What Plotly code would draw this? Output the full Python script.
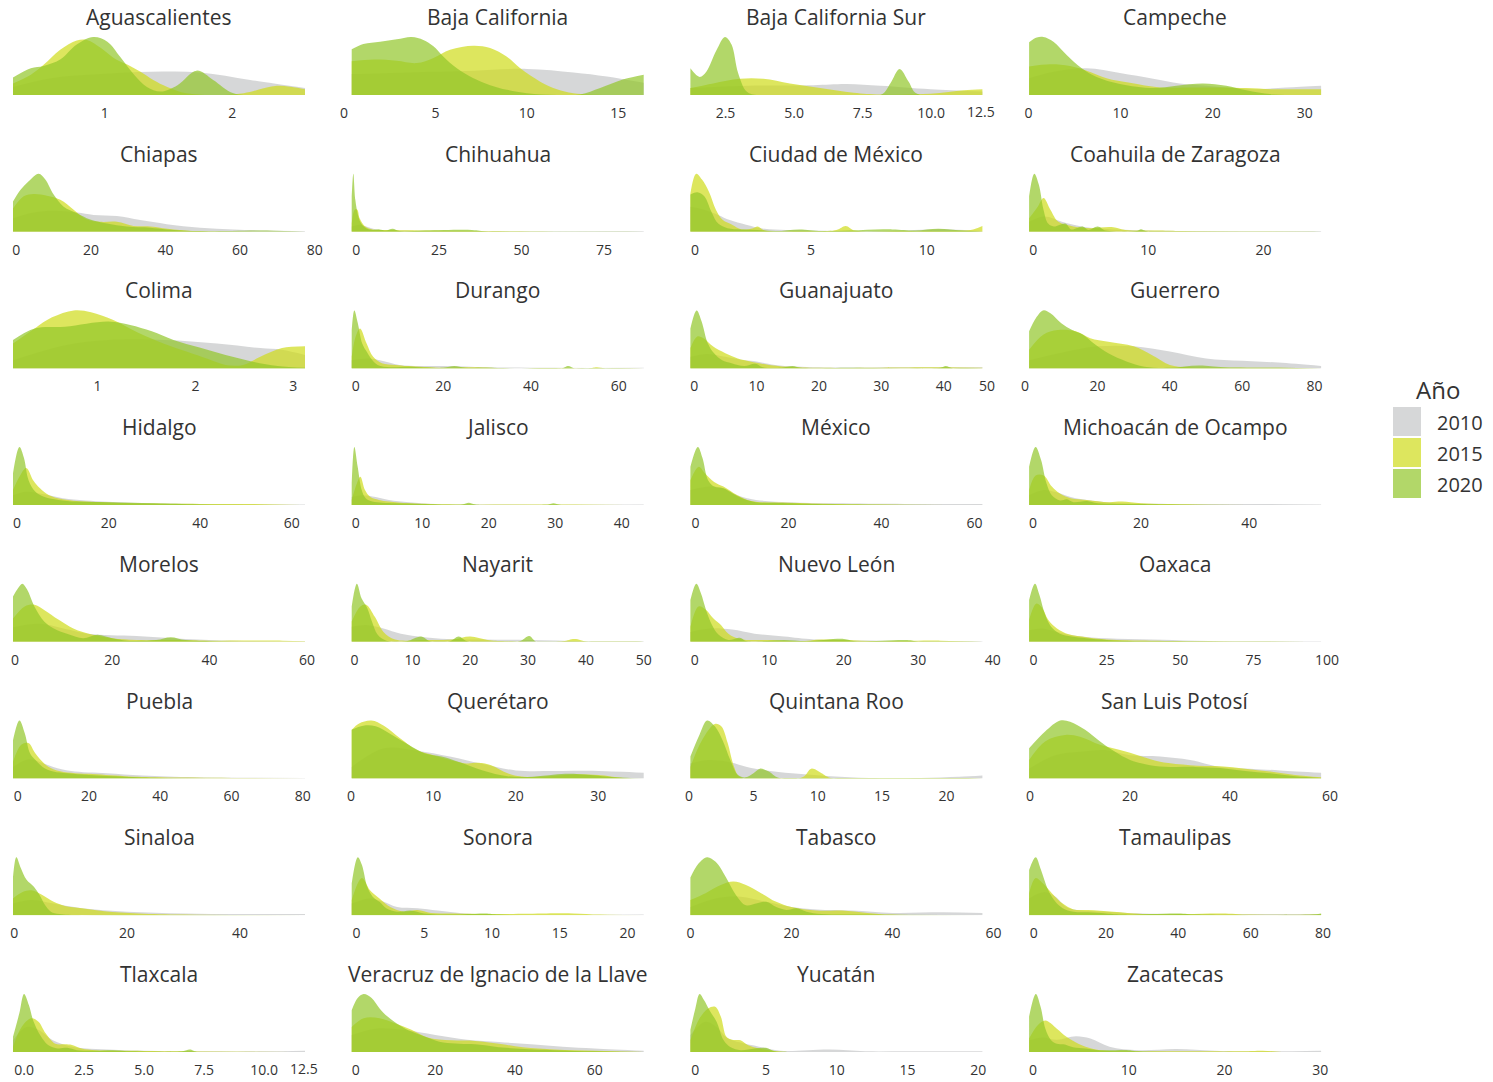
import plotly.graph_objects as go

# ---------------- data (y = density as % of panel peak) ----------------
STATES = ["Aguascalientes", "Baja California", "Baja California Sur", "Campeche",
          "Chiapas", "Chihuahua", "Ciudad de México", "Coahuila de Zaragoza",
          "Colima", "Durango", "Guanajuato", "Guerrero",
          "Hidalgo", "Jalisco", "México", "Michoacán de Ocampo",
          "Morelos", "Nayarit", "Nuevo León", "Oaxaca",
          "Puebla", "Querétaro", "Quintana Roo", "San Luis Potosí",
          "Sinaloa", "Sonora", "Tabasco", "Tamaulipas",
          "Tlaxcala", "Veracruz de Ignacio de la Llave", "Yucatán", "Zacatecas"]
KEYS = ["AGS", "BC", "BCS", "CAM", "CHS", "CHH", "CDMX", "COA",
        "COL", "DGO", "GTO", "GRO", "HGO", "JAL", "MEX", "MIC",
        "MOR", "NAY", "NL", "OAX", "PUE", "QRO", "QROO", "SLP",
        "SIN", "SON", "TAB", "TAM", "TLAX", "VER", "YUC", "ZAC"]
YEARS = ["2010", "2015", "2020"]
TICK_LABELS = [["1", "2"], ["0", "5", "10", "15"], ["2.5", "5.0", "7.5", "10.0", "12.5"], ["0", "10", "20", "30"],
               ["0", "20", "40", "60", "80"], ["0", "25", "50", "75"], ["0", "5", "10"], ["0", "10", "20"],
               ["1", "2", "3"], ["0", "20", "40", "60"], ["0", "10", "20", "30", "40", "50"], ["0", "20", "40", "60", "80"],
               ["0", "20", "40", "60"], ["0", "10", "20", "30", "40"], ["0", "20", "40", "60"], ["0", "20", "40"],
               ["0", "20", "40", "60"], ["0", "10", "20", "30", "40", "50"], ["0", "10", "20", "30", "40"], ["0", "25", "50", "75", "100"],
               ["0", "20", "40", "60", "80"], ["0", "10", "20", "30"], ["0", "5", "10", "15", "20"], ["0", "20", "40", "60"],
               ["0", "20", "40"], ["0", "5", "10", "15", "20"], ["0", "20", "40", "60"], ["0", "20", "40", "60", "80"],
               ["0.0", "2.5", "5.0", "7.5", "10.0", "12.5"], ["0", "20", "40", "60"], ["0", "5", "10", "15", "20"], ["0", "10", "20", "30"]]

AGS_2010 = [(0.28, 14), (0.58, 29), (0.97, 36), (1.36, 40), (1.75, 39), (2.14, 26), (2.57, 12)]
AGS_2015 = [(0.28, 20), (0.42, 35), (0.52, 52), (0.65, 78), (0.78, 94), (0.86, 95), (0.97, 81), (1.07, 64), (1.18, 52),
            (1.28, 40), (1.38, 26), (1.49, 14), (1.64, 3), (1.88, 0), (2.09, 3), (2.35, 16), (2.57, 10)]
AGS_2020 = [(0.28, 30), (0.42, 46), (0.52, 50), (0.65, 61), (0.78, 87), (0.91, 100), (1.02, 92), (1.12, 66), (1.23, 35),
            (1.33, 14), (1.44, 6), (1.57, 17), (1.72, 42), (1.85, 26), (2.01, 3), (2.27, 0), (2.57, 0)]

BC_2010 = [(0.42, 36), (3.43, 39), (7.08, 42), (10.0, 45), (12.55, 39), (14.38, 32), (16.39, 21)]
BC_2015 = [(0.42, 58), (1.61, 61), (2.88, 59), (3.98, 55), (4.89, 64), (5.80, 78), (7.08, 85), (7.99, 81), (8.91, 66),
           (9.64, 46), (10.73, 23), (11.64, 10), (12.55, 3), (14.38, 0), (16.39, 0)]
BC_2020 = [(0.42, 79), (1.06, 88), (1.97, 92), (2.88, 96), (3.70, 100), (4.34, 95), (4.89, 84), (5.44, 66), (6.17, 46),
           (7.08, 29), (7.99, 17), (8.91, 9), (10.0, 3), (11.64, 0), (12.92, 1), (14.01, 12), (15.29, 27), (16.39, 35)]

BCS_2010 = [(1.22, 12), (3.27, 16), (5.71, 17), (6.93, 19), (8.15, 16), (9.98, 10), (11.87, 6)]
BCS_2015 = [(1.22, 12), (2.05, 20), (3.02, 28), (3.88, 28), (4.85, 20), (5.95, 12), (7.17, 4), (8.15, 1), (9.98, 2),
            (11.2, 8), (11.87, 10)]
BCS_2020 = [(1.22, 46), (1.56, 31), (1.80, 40), (2.17, 77), (2.48, 100), (2.72, 87), (2.96, 38), (3.27, 6), (3.63, 0),
            (8.15, 0), (8.51, 20), (8.85, 45), (9.18, 23), (9.49, 2), (11.87, 0)]

CAM_2010 = [(0.07, 29), (2.71, 40), (6.32, 46), (9.93, 38), (13.54, 28), (16.43, 20), (19.31, 16), (24.37, 10),
            (27.98, 13), (31.77, 16)]
CAM_2015 = [(0.07, 49), (2.35, 53), (4.51, 50), (6.32, 42), (8.48, 29), (11.01, 21), (14.26, 13), (17.15, 13),
            (20.76, 13), (23.65, 12), (26.53, 10), (31.77, 10)]
CAM_2020 = [(0.07, 91), (0.9, 99), (1.62, 100), (2.71, 92), (4.15, 69), (5.78, 46), (7.40, 31), (9.93, 19), (13.54, 12),
            (16.06, 16), (18.95, 20), (21.48, 16), (23.65, 8), (26.53, 1), (31.77, 0)]

CHS_2010 = [(-0.9, 23), (4.64, 33), (10.0, 36), (16.25, 33), (20.71, 29), (26.96, 27), (33.21, 20), (40.36, 13),
            (49.29, 7), (58.21, 4), (67.14, 2), (77.41, 1)]
CHS_2015 = [(-0.9, 40), (1.96, 61), (4.64, 65), (8.21, 62), (11.79, 55), (15.36, 38), (18.93, 21), (22.5, 17),
            (26.96, 17), (31.43, 10), (35.89, 9), (42.14, 4), (49.29, 1), (77.41, 0)]
CHS_2020 = [(-0.9, 52), (1.07, 72), (3.30, 87), (5.98, 100), (7.77, 90), (10.0, 64), (12.68, 43), (16.25, 32),
            (19.82, 21), (24.29, 14), (29.64, 9), (35.89, 7), (40.36, 4), (49.29, 1), (67.14, 2), (77.41, 0)]

CHH_2010 = [(-1.4, 9), (1, 12), (3, 9), (6, 4), (15, 2), (40, 1), (87, 1)]
CHH_2015 = [(-1.4, 14), (-0.5, 38), (0.3, 38), (1, 23), (2.5, 10), (5, 4), (10, 3), (25, 2), (40, 1), (60, 0), (87, 0)]
CHH_2020 = [(-1.4, 61), (-0.9, 100), (-0.3, 55), (0.5, 29), (1.5, 14), (3, 6), (5, 3), (7, 4), (9, 2), (11, 5),
            (13, 1), (21, 2), (35, 3), (40, 0), (87, 0)]

CDMX_2010 = [(-0.2, 43), (0.4, 38), (1.0, 29), (1.5, 20), (2.2, 12), (3, 5), (5, 2), (8, 1), (11, 4), (12.4, 1)]
CDMX_2015 = [(-0.2, 66), (0.05, 100), (0.3, 90), (0.6, 69), (0.9, 38), (1.2, 20), (1.6, 12), (2.0, 4), (2.5, 6),
             (2.7, 9), (3.0, 2), (4.5, 1), (6.1, 3), (6.5, 10), (6.9, 2), (9, 1), (11.5, 2), (12.0, 4), (12.4, 10)]
CDMX_2020 = [(-0.2, 64), (0.1, 68), (0.4, 61), (0.7, 35), (1.0, 14), (1.4, 6), (2.0, 4), (2.7, 3), (3.5, 1), (4.5, 4),
             (5.5, 1), (8.5, 4), (9.5, 2), (10.5, 5), (11.5, 2), (12.4, 0)]

COA_2010 = [(-0.35, 17), (1, 26), (2.5, 17), (4, 10), (6, 5), (10, 2), (15, 1), (25, 1)]
COA_2015 = [(-0.35, 23), (0.4, 43), (0.9, 58), (1.5, 38), (2.2, 17), (3.5, 9), (5, 6), (6.8, 8), (8, 3), (11, 2),
            (13, 1), (25, 0)]
COA_2020 = [(-0.35, 61), (0.1, 100), (0.5, 81), (0.9, 38), (1.3, 14), (1.8, 9), (2.8, 14), (3.3, 4), (4.3, 9), (4.8, 3),
            (5.6, 9), (6.3, 2), (9.0, 1), (9.3, 4), (10, 0), (25, 0)]

COL_2010 = [(0.135, 14), (0.667, 40), (1.111, 49), (1.687, 49), (2.22, 43), (2.663, 35), (2.885, 32), (3.12, 23)]
COL_2015 = [(0.135, 43), (0.357, 69), (0.534, 88), (0.756, 100), (0.933, 97), (1.155, 84), (1.421, 61), (1.687, 42),
            (1.909, 29), (2.131, 16), (2.308, 6), (2.486, 6), (2.663, 20), (2.885, 35), (3.12, 38)]
COL_2020 = [(0.135, 49), (0.357, 69), (0.667, 72), (1.111, 81), (1.333, 75), (1.554, 64), (1.776, 49), (2.042, 36),
            (2.308, 23), (2.574, 12), (2.84, 4), (3.12, 1)]

DGO_2010 = [(-0.9, 14), (3, 17), (6, 13), (10, 6), (20, 4), (30, 2), (45, 1), (65.7, 1)]
DGO_2015 = [(-0.9, 20), (0, 55), (1, 69), (2.5, 43), (4, 20), (6, 9), (9, 6), (12, 4), (20, 1), (27, 2), (35, 0),
            (53, 0), (55, 2), (57, 0), (65.7, 0)]
DGO_2020 = [(-0.9, 66), (-0.3, 100), (0.5, 78), (1.5, 43), (2.5, 29), (3.5, 17), (5, 6), (8, 2), (12, 3), (20, 1),
            (22.5, 4), (25, 1), (30, 1), (47, 0), (48.5, 4), (50, 0), (65.7, 0)]

GTO_2010 = [(-0.6, 20), (2, 25), (5, 20), (8, 14), (10, 12), (13, 6), (20, 2), (33, 2), (46.2, 2)]
GTO_2015 = [(-0.6, 35), (0.5, 55), (1.5, 52), (3, 38), (5, 26), (7, 17), (9, 12), (12, 6), (15, 3), (20, 1), (40, 2),
            (46.2, 1)]
GTO_2020 = [(-0.6, 69), (0.4, 100), (1.2, 81), (2.2, 43), (3.2, 26), (4.5, 14), (6, 9), (8, 4), (9.8, 8), (11, 2),
            (14, 1), (15.8, 4), (17, 1), (25, 1), (39.5, 1), (40.3, 4), (41.5, 0), (46.2, 0)]

GRO_2010 = [(1.1, 14), (10, 27), (20, 38), (30, 38), (40, 29), (50, 17), (60, 13), (70, 10), (81.8, 4)]
GRO_2015 = [(1.1, 32), (5, 58), (9, 66), (14, 64), (18, 52), (23, 46), (30, 38), (35, 23), (40, 6), (45, 2), (55, 1),
            (70, 1), (81.8, 0)]
GRO_2020 = [(1.1, 64), (3, 87), (5, 100), (7, 95), (10, 78), (13, 66), (16, 58), (19, 43), (23, 26), (28, 12), (33, 3),
            (40, 1), (48, 5), (55, 2), (70, 1), (81.8, 0)]

HGO_2010 = [(-0.9, 17), (2, 23), (5, 20), (10, 12), (15, 8), (25, 4), (40, 2), (62.9, 1)]
HGO_2015 = [(-0.9, 26), (0.5, 49), (2, 64), (3.5, 43), (5, 29), (7, 17), (10, 10), (15, 6), (25, 3), (40, 2), (50, 2),
            (62.9, 0)]
HGO_2020 = [(-0.9, 55), (0.5, 100), (1.5, 81), (2.5, 43), (4, 23), (6, 14), (9, 9), (13, 6), (20, 5), (30, 3), (40, 1),
            (62.9, 0)]

JAL_2010 = [(-0.6, 14), (1, 17), (3, 14), (5, 9), (8, 5), (12, 2), (20, 1), (43.3, 1)]
JAL_2015 = [(-0.6, 9), (0.2, 38), (0.7, 49), (1.4, 26), (2.2, 14), (3.5, 9), (5, 6), (8, 3), (15, 1), (25, 1), (33, 1),
            (43.3, 0)]
JAL_2020 = [(-0.6, 38), (-0.2, 100), (0.3, 66), (0.9, 26), (1.5, 12), (2.5, 6), (4, 4), (6, 3), (10, 2), (16, 1),
            (17, 4), (18, 1), (29, 1), (29.7, 3), (31, 0), (43.3, 0)]

MEX_2010 = [(-1.1, 26), (3, 32), (6, 29), (9, 17), (13, 9), (20, 5), (30, 3), (45, 2), (61.7, 2)]
MEX_2015 = [(-1.1, 43), (0.7, 66), (2, 55), (4, 40), (6, 32), (9, 17), (12, 7), (20, 4), (30, 2), (40, 1), (61.7, 0)]
MEX_2020 = [(-1.1, 66), (0.5, 100), (1.5, 81), (2.7, 43), (4, 32), (6, 29), (8, 20), (10, 12), (13, 5), (17, 4),
            (25, 2), (35, 1), (61.7, 0)]

MIC_2010 = [(-0.7, 17), (2, 26), (4, 23), (7, 14), (10, 9), (15, 4), (25, 2), (40, 2), (53.3, 1)]
MIC_2015 = [(-0.7, 26), (0.5, 51), (2, 51), (3.5, 32), (5, 20), (7, 12), (10, 9), (14, 5), (16.5, 6), (20, 3), (30, 1),
            (53.3, 0)]
MIC_2020 = [(-0.7, 66), (0.5, 100), (1.5, 78), (2.5, 38), (3.5, 17), (5, 8), (6.3, 10), (7.5, 5), (10, 7), (12, 3),
            (20, 2), (25, 1), (53.3, 0)]

MOR_2010 = [(-0.4, 25), (5, 31), (10, 23), (15, 14), (25, 10), (35, 5), (45, 2), (59.6, 1)]
MOR_2015 = [(-0.4, 40), (2, 61), (4, 64), (6, 55), (9, 38), (12, 23), (16, 12), (20, 6), (25, 3), (32, 3), (40, 2),
            (55, 2), (59.6, 1)]
MOR_2020 = [(-0.4, 78), (0.7, 93), (1.5, 100), (2.5, 90), (4, 61), (6, 35), (8, 23), (11, 13), (14, 6), (17, 12),
            (20, 6), (23, 2), (29, 3), (32, 8), (35, 3), (40, 1), (59.6, 0)]

NAY_2010 = [(-0.5, 26), (2, 29), (5, 23), (8, 14), (12, 8), (16, 5), (22, 4), (30, 3), (40, 1), (50, 1)]
NAY_2015 = [(-0.5, 35), (1, 61), (2, 64), (3.5, 43), (5, 17), (7, 4), (12, 3), (17, 4), (20, 9), (23, 3), (26, 1),
            (36, 1), (38, 5), (40.5, 0), (50, 0)]
NAY_2020 = [(-0.5, 61), (0.4, 100), (1.2, 75), (2.2, 58), (3, 35), (4, 12), (5.5, 2), (9, 1), (11.5, 9), (13, 1),
            (16.5, 1), (18, 9), (19.5, 1), (28.5, 1), (30.2, 10), (31.5, 0), (50, 0)]

NL_2010 = [(-0.6, 17), (2, 23), (5, 21), (8, 14), (12, 9), (16, 4), (25, 2), (38.6, 1)]
NL_2015 = [(-0.6, 26), (0.5, 61), (1.5, 55), (2.5, 40), (3.5, 29), (4.5, 14), (6, 5), (10, 3), (14, 1), (17, 4),
           (20, 3), (25, 1), (33, 2), (38.6, 0)]
NL_2020 = [(-0.6, 72), (0.2, 100), (0.8, 84), (1.5, 55), (2.3, 29), (3.2, 12), (4.5, 3), (6, 7), (7, 1), (12, 3),
           (15, 1), (20, 5), (21.5, 1), (28.5, 3), (30, 0), (38.6, 0)]

OAX_2010 = [(-1.5, 20), (3, 23), (8, 17), (15, 10), (25, 6), (40, 4), (55, 2), (75, 1), (98, 1)]
OAX_2015 = [(-1.5, 38), (1, 66), (3, 58), (5, 38), (8, 23), (12, 13), (18, 8), (25, 4), (40, 2), (60, 1), (98, 0)]
OAX_2020 = [(-1.5, 72), (0.5, 100), (2, 81), (4, 46), (6, 26), (9, 14), (13, 9), (18, 6), (25, 3), (35, 1), (50, 1),
            (98, 0)]

PUE_2010 = [(-1.3, 20), (3, 33), (6, 29), (10, 20), (15, 13), (25, 9), (35, 5), (50, 2), (80.6, 1)]
PUE_2015 = [(-1.3, 29), (1, 58), (3, 61), (5, 43), (8, 23), (11, 14), (15, 10), (20, 8), (30, 4), (40, 2), (60, 1),
            (80.6, 0)]
PUE_2020 = [(-1.3, 66), (0.5, 100), (2, 78), (3.5, 43), (5, 32), (7, 20), (10, 12), (14, 9), (20, 6), (30, 3), (40, 1),
            (80.6, 0)]

QRO_2010 = [(0.1, 20), (4, 52), (8, 48), (12, 38), (16, 25), (20, 14), (25, 13), (30, 13), (35.5, 10)]
QRO_2015 = [(0.1, 84), (1, 95), (2.5, 100), (4, 91), (6, 69), (8, 49), (10, 40), (12, 32), (14, 26), (15.5, 27),
            (17, 23), (19, 9), (21, 3), (24, 4), (27, 7), (30, 6), (33, 1), (35.5, 0)]
QRO_2020 = [(0.1, 84), (1.5, 91), (3, 90), (5, 75), (7, 58), (9, 43), (11, 38), (13, 29), (16, 14), (19, 4), (22, 3),
            (26, 8), (29, 6), (32, 2), (35.5, 0)]

QROO_2010 = [(0.1, 26), (1.5, 32), (3, 29), (4.5, 20), (6, 14), (8, 9), (11, 4), (14, 1), (18, 1), (21, 3), (22.8, 5)]
QROO_2015 = [(0.1, 20), (1, 66), (2, 94), (2.5, 90), (3, 61), (3.5, 20), (4, 2), (8.8, 2), (9.5, 17), (10.3, 9),
             (11, 1), (22.8, 0)]
QROO_2020 = [(0.1, 38), (0.8, 75), (1.4, 100), (2, 90), (2.6, 66), (3.2, 32), (3.8, 6), (4.4, 2), (5, 9), (5.5, 17),
             (6.2, 12), (7, 1), (22.8, 0)]

SLP_2010 = [(-0.2, 17), (5, 40), (10, 46), (15, 49), (20, 40), (26, 38), (32, 32), (38, 20), (44, 17), (50, 14),
            (58.2, 10)]
SLP_2015 = [(-0.2, 32), (3, 64), (7, 75), (10, 72), (14, 58), (18, 49), (22, 39), (26, 29), (32, 23), (38, 21),
            (43, 17), (48, 12), (53, 6), (58.2, 2)]
SLP_2020 = [(-0.2, 52), (3, 81), (6, 100), (8, 98), (11, 84), (14, 64), (17, 46), (20, 32), (24, 23), (28, 20),
            (33, 20), (38, 18), (43, 13), (48, 9), (53, 4), (58.2, 1)]

SIN_2010 = [(-0.2, 20), (3, 26), (7, 20), (12, 12), (20, 6), (30, 3), (40, 2), (51.5, 2)]
SIN_2015 = [(-0.2, 29), (1.5, 40), (3, 43), (5, 35), (7, 23), (9, 16), (12, 12), (16, 7), (22, 3), (30, 1), (51.5, 0)]
SIN_2020 = [(-0.2, 66), (0.4, 100), (1.2, 81), (2.2, 61), (3.5, 49), (4.5, 35), (5.5, 17), (6.5, 6), (8, 2), (12, 0),
            (51.5, 0)]

SON_2010 = [(-0.35, 20), (1, 29), (2, 23), (3, 14), (4.5, 12), (6, 8), (8, 3), (12, 1), (21.2, 1)]
SON_2015 = [(-0.35, 26), (0.4, 64), (1, 43), (1.7, 29), (2.5, 14), (3.5, 6), (4.5, 9), (5.5, 4), (7, 3), (10, 2),
            (14, 3), (16, 3), (18, 1), (21.2, 0)]
SON_2020 = [(-0.35, 55), (0.1, 100), (0.4, 87), (0.8, 49), (1.2, 32), (1.7, 23), (2.2, 12), (3, 6), (4, 8), (5, 3),
            (7, 1), (9.5, 3), (10.5, 1), (21.2, 0)]

TAB_2010 = [(0, 14), (5, 29), (10, 32), (15, 23), (20, 14), (25, 10), (32, 8), (40, 4), (50, 5), (57.8, 4)]
TAB_2015 = [(0, 26), (3, 38), (6, 52), (8.5, 58), (11, 52), (14, 38), (17, 23), (20, 14), (25, 8), (30, 8), (35, 4),
            (40, 1), (57.8, 0)]
TAB_2020 = [(0, 65), (1.5, 88), (3.3, 100), (5, 92), (7, 66), (9, 35), (11, 17), (13, 20), (15, 23), (17, 14), (19, 9),
            (21, 12), (23, 6), (26, 2), (35, 1), (57.8, 0)]

TAM_2010 = [(-1.3, 29), (3, 40), (6, 32), (9, 14), (12, 9), (20, 6), (30, 3), (50, 2), (79.5, 2)]
TAM_2015 = [(-1.3, 38), (0.5, 64), (2.5, 55), (5, 38), (8, 20), (11, 10), (15, 9), (22, 6), (30, 2), (42, 2), (52, 3),
            (60, 1), (79.5, 1)]
TAM_2020 = [(-1.3, 78), (0.5, 100), (2, 78), (4, 43), (6, 23), (8, 12), (11, 6), (15, 5), (20, 3), (25, 1), (40, 3),
            (45, 1), (77, 1), (79.5, 3)]

TLAX_2010 = [(-0.46, 20), (0.1, 43), (0.6, 38), (1.2, 20), (2, 9), (3, 5), (5, 2), (7.5, 1), (10, 1), (11.7, 2)]
TLAX_2015 = [(-0.46, 9), (-0.1, 43), (0.3, 58), (0.6, 52), (0.9, 32), (1.3, 14), (1.7, 13), (2.0, 12), (2.4, 6),
             (3.0, 3), (4.5, 2), (6.5, 1), (11.7, 0)]
TLAX_2020 = [(-0.46, 26), (-0.2, 66), (0.0, 100), (0.2, 81), (0.4, 52), (0.7, 27), (1.0, 12), (1.4, 6), (1.8, 7),
             (2.2, 3), (3.0, 2), (3.7, 3), (4.5, 1), (6.6, 1), (6.9, 4), (7.2, 0), (11.7, 0)]

VER_2010 = [(-1.0, 29), (5, 40), (12, 38), (20, 29), (28, 21), (36, 17), (44, 13), (52, 9), (60, 6), (72.3, 2)]
VER_2015 = [(-1.0, 43), (2, 58), (6, 58), (10, 49), (14, 38), (18, 25), (24, 20), (30, 19), (36, 14), (42, 8), (50, 4),
            (60, 2), (72.3, 0)]
VER_2020 = [(-1.0, 72), (0.5, 93), (2, 100), (4, 93), (6, 75), (8, 61), (11, 46), (14, 35), (18, 25), (22, 16),
            (26, 14), (30, 13), (35, 9), (40, 6), (50, 3), (60, 1), (72.3, 0)]

YUC_2010 = [(-0.35, 29), (0.7, 52), (1.5, 43), (2.2, 25), (3.2, 16), (4.5, 9), (6, 2), (9.5, 4), (12, 1), (15, 1),
            (18, 1), (20.3, 1)]
YUC_2015 = [(-0.35, 20), (0.3, 58), (0.9, 75), (1.4, 78), (1.8, 61), (2.2, 26), (2.6, 21), (3.2, 20), (3.7, 12),
            (4.5, 6), (5.5, 2), (6.5, 0), (20.3, 0)]
YUC_2020 = [(-0.35, 38), (0.0, 75), (0.3, 100), (0.6, 90), (1.0, 72), (1.5, 52), (2.0, 20), (2.5, 8), (3.2, 3),
            (4.2, 6), (5, 7), (5.6, 1), (6.5, 0), (20.3, 0)]

ZAC_2010 = [(-0.4, 20), (1, 25), (2.5, 21), (4.5, 27), (6, 23), (8, 9), (11, 3), (15, 5), (19, 2), (25, 1), (30.1, 2)]
ZAC_2015 = [(-0.4, 23), (0.5, 46), (1.3, 54), (2.5, 40), (3.5, 26), (4.5, 16), (5.5, 9), (7, 3), (10, 1), (15, 1),
            (22, 1), (24, 2), (26, 0), (30.1, 0)]
ZAC_2020 = [(-0.4, 61), (0.3, 100), (0.8, 78), (1.3, 40), (1.9, 20), (2.5, 14), (3.2, 13), (4.2, 8), (5.5, 6), (7, 3),
            (10, 3), (11, 1), (30.1, 0)]

# ---------------- style ----------------
COLORS = {"2010": "rgba(196,198,199,0.7)", "2015": "rgba(206,219,26,0.7)", "2020": "rgba(145,198,42,0.7)"}
FONT = "Open Sans, Lato, sans-serif"
TEXT_COLOR = "#333333"
TICK_SIZE = 14
W, H = 1493, 1082

SERIES = {k: [globals()[f"{k}_{y}"] for y in YEARS] for k in KEYS}


def fx(p):
    """window pixel x -> paper fraction"""
    return p / W


def fy(p):
    """window pixel y -> paper fraction"""
    return 1 - p / H


def label_width(s):
    """approximate rendered width (px) of a tick label"""
    return sum(0.27 if ch == "." else 0.572 for ch in s) * TICK_SIZE


fig = go.Figure()
layout = {}
annotations = []

for i, (state, key) in enumerate(zip(STATES, KEYS)):
    r, c = divmod(i, 4)
    n = i + 1
    xname = "x" if n == 1 else f"x{n}"
    yname = "y" if n == 1 else f"y{n}"
    series = SERIES[key]
    xmin = min(p[0] for s in series for p in s)
    xmax = max(p[0] for s in series for p in s)
    p0 = 13 + 338.7 * c
    p1 = 305 + 338.7 * c
    scale = (p1 - p0) / (xmax - xmin)
    d0 = max(0.0, p0 - 14.6)
    d1 = min(W, p1 + 14.6)
    panel_right = d1
    lo = xmin - (p0 - d0) / scale
    hi = xmax + (d1 - p1) / scale
    tvals = [float(t) for t in TICK_LABELS[i]]
    if min(tvals) < lo:
        lo = min(tvals) - 1.0 / scale
        d0 = max(0.0, p0 - (xmin - lo) * scale)
    if max(tvals) > hi:
        hi = max(tvals) + 1.0 / scale
        d1 = min(W, p1 + (hi - xmax) * scale)

    yb = 95 + 136.7 * r
    # as in the original, a last label that would stick far out of its panel is kept flush with the panel edge
    ttext = []
    for t, s in zip(tvals, TICK_LABELS[i]):
        right_edge = p0 + (t - xmin) * scale + label_width(s) / 2
        if right_edge > panel_right + 6:
            ttext.append("")
            annotations.append(dict(
                text=s, x=fx(panel_right), y=fy(yb + 17), xref="paper", yref="paper",
                xanchor="right", yanchor="middle", showarrow=False,
                font=dict(family=FONT, size=TICK_SIZE, color=TEXT_COLOR)))
        else:
            ttext.append(s)

    for year, pts in zip(YEARS, series):
        fig.add_trace(go.Scatter(
            x=[p[0] for p in pts], y=[p[1] for p in pts],
            mode="lines", line=dict(width=0, shape="spline", smoothing=1.0),
            fill="tozeroy", fillcolor=COLORS[year],
            xaxis=xname, yaxis=yname, showlegend=False, hoverinfo="skip"))

    layout["xaxis" if n == 1 else f"xaxis{n}"] = dict(
        domain=[fx(d0), fx(d1)], range=[lo, hi], anchor=yname, automargin=False,
        tickvals=tvals, ticktext=ttext, ticks="outside", ticklen=5,
        tickcolor="rgba(0,0,0,0)", showgrid=False, zeroline=False, showline=False,
        tickfont=dict(family=FONT, size=TICK_SIZE, color=TEXT_COLOR), fixedrange=True)
    layout["yaxis" if n == 1 else f"yaxis{n}"] = dict(
        domain=[fy(yb), fy(yb - 64)], range=[0, 100 * 64 / 58], anchor=xname, automargin=False,
        visible=False, showgrid=False, zeroline=False, fixedrange=True)

    annotations.append(dict(
        text=state, x=fx((p0 + p1) / 2), y=fy(17 + 136.7 * r), xref="paper", yref="paper",
        xanchor="center", yanchor="middle", showarrow=False,
        font=dict(family=FONT, size=21, color=TEXT_COLOR)))

# legend drawn by hand (title, swatches, labels)
shapes = []
annotations.append(dict(text="Año", x=fx(1438), y=fy(389), xref="paper", yref="paper",
                        xanchor="center", yanchor="middle", showarrow=False,
                        font=dict(family=FONT, size=24, color=TEXT_COLOR)))
for k, year in enumerate(YEARS):
    top = 407 + 31 * k
    shapes.append(dict(type="rect", xref="paper", yref="paper",
                       x0=fx(1393), x1=fx(1421), y0=fy(top + 29), y1=fy(top),
                       fillcolor=COLORS[year], line=dict(width=0)))
    annotations.append(dict(text=year, x=fx(1435), y=fy(top + 15), xref="paper", yref="paper",
                            xanchor="left", yanchor="middle", showarrow=False,
                            font=dict(family=FONT, size=20, color=TEXT_COLOR)))

fig.update_layout(**layout)
fig.update_layout(
    width=W, height=H, autosize=False, margin=dict(l=0, r=0, t=0, b=0, pad=0, autoexpand=False),
    paper_bgcolor="white", plot_bgcolor="white",
    showlegend=False, annotations=annotations, shapes=shapes,
    font=dict(family=FONT, color=TEXT_COLOR))

# the page's default body margin would push the 1493x1082 figure out of the window
PAGE_FIX = ("document.body.style.margin='0';"
            "document.body.style.overflow='hidden';"
            "document.documentElement.style.overflow='hidden';")
fig.write_html("out.html", post_script=PAGE_FIX,
               config={"displayModeBar": False, "responsive": False})
